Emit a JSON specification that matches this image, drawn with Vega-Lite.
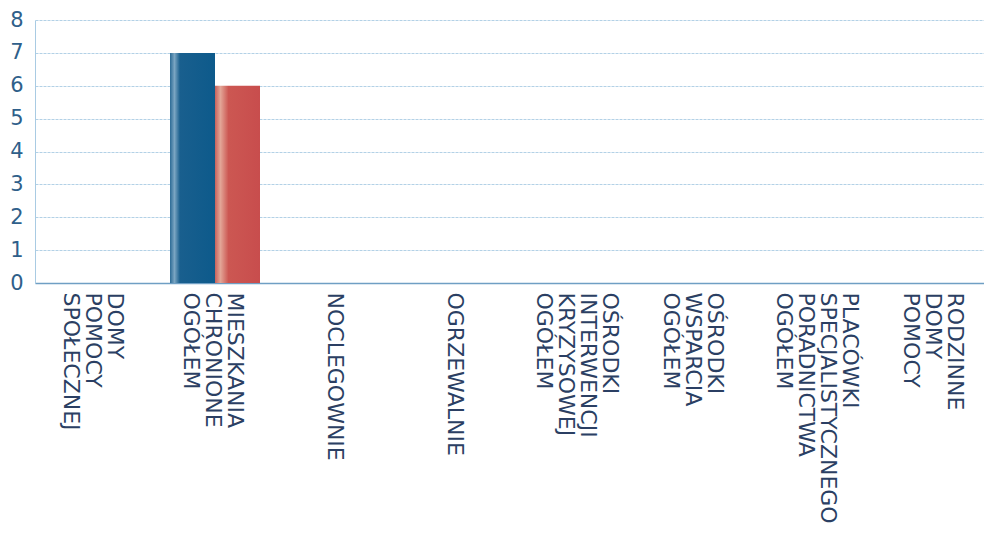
{
  "$schema": "https://vega.github.io/schema/vega-lite/v6.json",
  "autosize": {"type": "none"},
  "padding": {"left": 35, "top": 20, "right": 0, "bottom": 250},
  "width": 960,
  "height": 263,
  "background": "white",
  "data": {
    "values": [
      {"kategoria": "DOMY|POMOCY|SPOŁECZNEJ", "seria": "Seria 1", "wartosc": 0},
      {"kategoria": "DOMY|POMOCY|SPOŁECZNEJ", "seria": "Seria 2", "wartosc": 0},
      {"kategoria": "MIESZKANIA|CHRONIONE|OGÓŁEM", "seria": "Seria 1", "wartosc": 7},
      {"kategoria": "MIESZKANIA|CHRONIONE|OGÓŁEM", "seria": "Seria 2", "wartosc": 6},
      {"kategoria": "NOCLEGOWNIE", "seria": "Seria 1", "wartosc": 0},
      {"kategoria": "NOCLEGOWNIE", "seria": "Seria 2", "wartosc": 0},
      {"kategoria": "OGRZEWALNIE", "seria": "Seria 1", "wartosc": 0},
      {"kategoria": "OGRZEWALNIE", "seria": "Seria 2", "wartosc": 0},
      {"kategoria": "OŚRODKI|INTERWENCJI|KRYZYSOWEJ|OGÓŁEM", "seria": "Seria 1", "wartosc": 0},
      {"kategoria": "OŚRODKI|INTERWENCJI|KRYZYSOWEJ|OGÓŁEM", "seria": "Seria 2", "wartosc": 0},
      {"kategoria": "OŚRODKI|WSPARCIA|OGÓŁEM", "seria": "Seria 1", "wartosc": 0},
      {"kategoria": "OŚRODKI|WSPARCIA|OGÓŁEM", "seria": "Seria 2", "wartosc": 0},
      {"kategoria": "PLACÓWKI|SPECJALISTYCZNEGO|PORADNICTWA|OGÓŁEM", "seria": "Seria 1", "wartosc": 0},
      {"kategoria": "PLACÓWKI|SPECJALISTYCZNEGO|PORADNICTWA|OGÓŁEM", "seria": "Seria 2", "wartosc": 0},
      {"kategoria": "RODZINNE|DOMY|POMOCY", "seria": "Seria 1", "wartosc": 0},
      {"kategoria": "RODZINNE|DOMY|POMOCY", "seria": "Seria 2", "wartosc": 0}
    ]
  },
  "encoding": {
    "x": {
      "field": "kategoria",
      "type": "nominal",
      "sort": null,
      "scale": {"paddingInner": 0.25, "paddingOuter": 0.125},
      "axis": {
        "title": null,
        "labelAngle": 90,
        "labelExpr": "split(datum.label, '|')",
        "labelFont": "DejaVu Sans",
        "labelFontSize": 22,
        "labelLineHeight": 22,
        "labelColor": "#2b3f63",
        "labelPadding": 9,
        "labelOverlap": false,
        "labelLimit": 400,
        "labelOffset": {
          "condition": [
            {"test": "length(split(datum.value, '|')) == 4", "value": 35},
            {"test": "length(split(datum.value, '|')) == 3", "value": 20}
          ],
          "value": 0
        },
        "ticks": false,
        "domainColor": "#6f9fc4",
        "domainWidth": 1.5,
        "grid": false
      }
    },
    "xOffset": {
      "field": "seria",
      "type": "nominal",
      "scale": {"domain": ["Seria 1", "Seria 2"], "paddingInner": 0, "paddingOuter": 0}
    },
    "y": {
      "field": "wartosc",
      "type": "quantitative",
      "scale": {"domain": [0, 8], "nice": false},
      "axis": {
        "title": null,
        "values": [0, 1, 2, 3, 4, 5, 6, 7, 8],
        "labelOverlap": false,
        "labelFont": "DejaVu Sans",
        "labelFontSize": 21,
        "labelColor": "#2f5f8a",
        "labelPadding": 12,
        "ticks": false,
        "domainColor": "#a9cbe3",
        "gridColor": "#b3d1e6",
        "gridWidth": 1,
        "gridDash": [3, 1]
      }
    }
  },
  "layer": [
    {
      "transform": [{"filter": "datum.seria === 'Seria 1'"}],
      "mark": {
        "type": "bar",
        "color": {
          "gradient": "linear",
          "x1": 0, "x2": 1, "y1": 0, "y2": 0,
          "stops": [
            {"offset": 0, "color": "#2c6b96"},
            {"offset": 0.1, "color": "#7aa5c2"},
            {"offset": 0.22, "color": "#195f8e"},
            {"offset": 1, "color": "#0d5a8b"}
          ]
        }
      }
    },
    {
      "transform": [{"filter": "datum.seria === 'Seria 2'"}],
      "mark": {
        "type": "bar",
        "color": {
          "gradient": "linear",
          "x1": 0, "x2": 1, "y1": 0, "y2": 0,
          "stops": [
            {"offset": 0, "color": "#c8625c"},
            {"offset": 0.12, "color": "#e3a697"},
            {"offset": 0.3, "color": "#cc5752"},
            {"offset": 1, "color": "#c84d4d"}
          ]
        }
      }
    }
  ],
  "config": {"view": {"stroke": null}}
}
